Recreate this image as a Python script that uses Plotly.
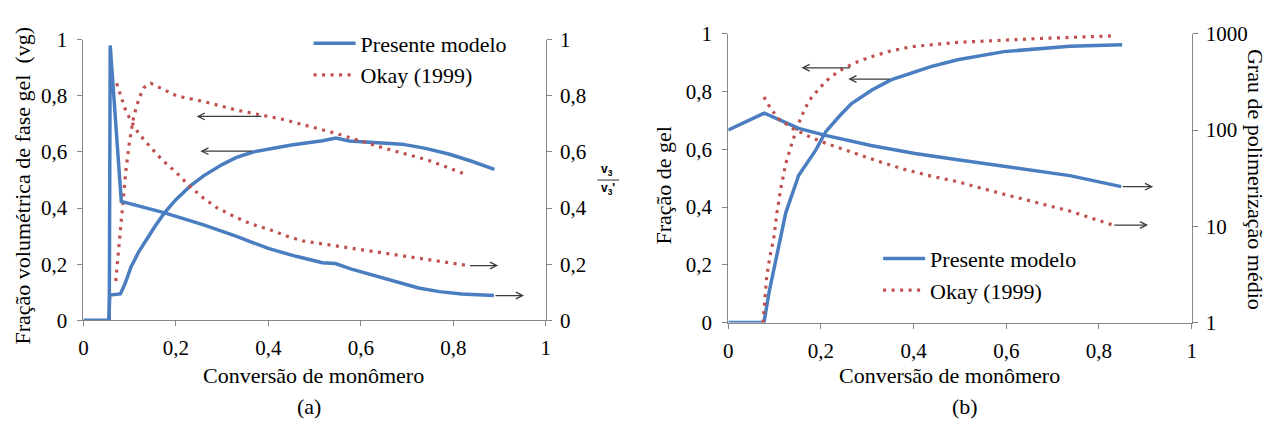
import math
import plotly.graph_objects as go

# ---------------- Panel (a) data ----------------
a_model_vg_x = [0, 0.055, 0.057, 0.080, 0.090, 0.103, 0.120, 0.137, 0.155, 0.174, 0.20, 0.232, 0.26, 0.30, 0.33, 0.367, 0.41, 0.45, 0.517, 0.546, 0.575, 0.63, 0.689, 0.74, 0.79, 0.84, 0.889]
a_model_vg_y = [0, 0, 0.09, 0.094, 0.13, 0.19, 0.245, 0.29, 0.335, 0.38, 0.43, 0.48, 0.515, 0.555, 0.58, 0.60, 0.614, 0.625, 0.64, 0.65, 0.639, 0.635, 0.628, 0.613, 0.593, 0.567, 0.538]

a_model_v3_x = [0.056, 0.058, 0.082, 0.174, 0.26, 0.33, 0.40, 0.46, 0.517, 0.545, 0.58, 0.617, 0.67, 0.725, 0.77, 0.818, 0.888]
a_model_v3_y = [0, 0.98, 0.424, 0.384, 0.34, 0.30, 0.256, 0.228, 0.205, 0.202, 0.182, 0.165, 0.138, 0.115, 0.102, 0.094, 0.088]

a_okay_vg_x = [0.070, 0.077, 0.084, 0.092, 0.100, 0.109, 0.120, 0.131, 0.146, 0.170, 0.202, 0.26, 0.33, 0.43, 0.545, 0.646, 0.747, 0.832]
a_okay_vg_y = [0.14, 0.27, 0.40, 0.535, 0.64, 0.727, 0.79, 0.83, 0.845, 0.825, 0.80, 0.78, 0.75, 0.717, 0.667, 0.616, 0.57, 0.517]

a_okay_v3_x = [0.072, 0.081, 0.090, 0.103, 0.120, 0.146, 0.170, 0.202, 0.23, 0.26, 0.29, 0.33, 0.365, 0.403, 0.44, 0.474, 0.545, 0.652, 0.76, 0.832]
a_okay_v3_y = [0.845, 0.795, 0.755, 0.71, 0.665, 0.616, 0.572, 0.525, 0.478, 0.435, 0.40, 0.367, 0.342, 0.323, 0.30, 0.283, 0.266, 0.239, 0.212, 0.195]

# ---------------- Panel (b) data ----------------
b_model_gel_x = [0, 0.077, 0.088, 0.103, 0.124, 0.152, 0.188, 0.21, 0.24, 0.266, 0.31, 0.351, 0.40, 0.437, 0.495, 0.595, 0.737, 0.85]
b_model_gel_y = [0, 0, 0.105, 0.216, 0.38, 0.51, 0.595, 0.66, 0.715, 0.758, 0.805, 0.84, 0.868, 0.886, 0.91, 0.938, 0.957, 0.962]

b_okay_gel_x = [0.075, 0.083, 0.090, 0.098, 0.105, 0.114, 0.124, 0.138, 0.152, 0.165, 0.18, 0.21, 0.238, 0.27, 0.308, 0.35, 0.394, 0.495, 0.666, 0.837]
b_okay_gel_y = [0, 0.16, 0.23, 0.29, 0.38, 0.47, 0.55, 0.625, 0.69, 0.74, 0.78, 0.835, 0.87, 0.897, 0.92, 0.94, 0.955, 0.97, 0.983, 0.993]

b_model_dp_x = [0, 0.04, 0.078, 0.152, 0.21, 0.308, 0.403, 0.495, 0.595, 0.737, 0.848]
b_model_dp_y = [100, 122, 150, 104, 88, 69, 57, 49, 42, 33.6, 25.8]

b_okay_dp_x = [0.077, 0.092, 0.109, 0.14, 0.18, 0.22, 0.266, 0.32, 0.38, 0.44, 0.495, 0.595, 0.737, 0.83]
b_okay_dp_y = [220, 165, 130, 103, 83, 70, 59, 48, 39, 33, 29, 21.5, 14.4, 10.3]

# tick labels
lin_ticks = [0, 0.2, 0.4, 0.6, 0.8, 1]
lin_ticktext = ["0", "0,2", "0,4", "0,6", "0,8", "1"]
log_ticks = [1, 10, 100, 1000]
log_ticktext = ["1", "10", "100", "1000"]

# arrows: (head_x, tail_x, y, axis)
arrows_a = [
    (0.245, 0.388, 0.727, "y"),
    (0.253, 0.367, 0.603, "y"),
    (0.897, 0.833, 0.195, "y2"),
    (0.953, 0.888, 0.088, "y2"),
]
arrows_b = [
    (0.158, 0.266, 0.882, "y3"),
    (0.259, 0.351, 0.843, "y3"),
    (0.917, 0.848, 25.8, "y4"),
    (0.906, 0.830, 10.3, "y4"),
]

BLUE = "#4A7EC0"
RED = "#C0504D"
FONT = "Liberation Serif"
AX = "#868686"

fig = go.Figure()

def blue(x, y, xa, ya, name, show, leg):
    return go.Scatter(x=x, y=y, xaxis=xa, yaxis=ya, mode="lines", name=name,
                      line=dict(color=BLUE, width=3.5), showlegend=show,
                      legendgroup=name + leg, legend=leg)

def red(x, y, xa, ya, name, show, leg):
    return go.Scatter(x=x, y=y, xaxis=xa, yaxis=ya, mode="lines", name=name,
                      line=dict(color=RED, width=3.2, dash="3px,5.5px"), showlegend=show,
                      legendgroup=name + leg, legend=leg)

fig.add_trace(blue(a_model_vg_x, a_model_vg_y, "x", "y", "Presente modelo", True, "legend"))
fig.add_trace(blue(a_model_v3_x, a_model_v3_y, "x", "y2", "Presente modelo", False, "legend"))
fig.add_trace(red(a_okay_vg_x, a_okay_vg_y, "x", "y", "Okay (1999)", True, "legend"))
fig.add_trace(red(a_okay_v3_x, a_okay_v3_y, "x", "y2", "Okay (1999)", False, "legend"))

fig.add_trace(blue(b_model_gel_x, b_model_gel_y, "x2", "y3", "Presente modelo", True, "legend2"))
fig.add_trace(blue(b_model_dp_x, b_model_dp_y, "x2", "y4", "Presente modelo", False, "legend2"))
fig.add_trace(red(b_okay_gel_x, b_okay_gel_y, "x2", "y3", "Okay (1999)", True, "legend2"))
fig.add_trace(red(b_okay_dp_x, b_okay_dp_y, "x2", "y4", "Okay (1999)", False, "legend2"))

def tf(size=21):
    return dict(family=FONT, size=size, color="black")

common = dict(showgrid=False, zeroline=False, showline=True, linecolor=AX, linewidth=1,
              ticks="outside", ticklen=5, tickcolor=AX)

dom_a_x = [79 / 1277, 545 / 1277]
dom_a_y = [1 - 326.5 / 429, 1 - 29.5 / 429]
dom_b_x = [729 / 1277, 1196 / 1277]
dom_b_y = [1 - 329 / 429, 1 - 23 / 429]

fig.update_layout(
    width=1277, height=429, margin=dict(l=0, r=0, t=0, b=0),
    paper_bgcolor="white", plot_bgcolor="white",
    xaxis=dict(domain=dom_a_x, range=[0, 1], tickvals=lin_ticks, ticktext=lin_ticktext,
               anchor="y", ticklabelstandoff=4, tickfont=tf(), **common),
    yaxis=dict(domain=dom_a_y, range=[0, 1], tickvals=lin_ticks, ticktext=lin_ticktext,
               anchor="x", ticklabelstandoff=6, tickfont=tf(), **common),
    yaxis2=dict(range=[0, 1], tickvals=lin_ticks, ticktext=lin_ticktext, overlaying="y",
                side="right", anchor="x", ticklabelstandoff=4, tickfont=tf(), **common),
    xaxis2=dict(domain=dom_b_x, range=[0, 1], tickvals=lin_ticks, ticktext=lin_ticktext,
                anchor="y3", ticklabelstandoff=4, tickfont=tf(), **common),
    yaxis3=dict(domain=dom_b_y, range=[0, 1], tickvals=lin_ticks, ticktext=lin_ticktext,
                anchor="x2", ticklabelstandoff=6, tickfont=tf(), **common),
    yaxis4=dict(type="log", range=[0, 3], tickvals=log_ticks, ticktext=log_ticktext,
                overlaying="y3", side="right", anchor="x2", ticklabelstandoff=4, tickfont=tf(), **common),
    legend=dict(x=306 / 1277, y=1 - 11 / 429, xanchor="left", yanchor="top",
                bgcolor="rgba(0,0,0,0)", font=tf(22), tracegroupgap=0, itemwidth=42),
    legend2=dict(x=880 / 1277, y=1 - 239 / 429, xanchor="left", yanchor="top",
                 bgcolor="rgba(0,0,0,0)", font=tf(22), tracegroupgap=0, itemwidth=42),
)

ann = []
for hx, tx, y, ya in arrows_a:
    ann.append(dict(x=hx, y=y, ax=tx, ay=y, xref="x", yref=ya, axref="x", ayref=ya,
                    text="", showarrow=True, arrowhead=5, arrowsize=1.1, arrowwidth=1.2,
                    arrowcolor="#3a3a3a", standoff=0, startstandoff=0))
for hx, tx, y, ya in arrows_b:
    yy = math.log10(y) if ya == "y4" else y
    ann.append(dict(x=hx, y=yy, ax=tx, ay=yy, xref="x2", yref=ya, axref="x2", ayref=ya,
                    text="", showarrow=True, arrowhead=5, arrowsize=1.1, arrowwidth=1.2,
                    arrowcolor="#3a3a3a", standoff=0, startstandoff=0))

def txt(t, x, y, angle=0, size=22, fam=FONT):
    return dict(text=t, x=x / 1277, y=1 - y / 429, xref="paper", yref="paper",
                showarrow=False, textangle=angle, xanchor="center", yanchor="middle",
                font=dict(family=fam, size=size, color="black"))

ann += [
    txt("Conversão de monômero", 311, 385),
    txt("(a)", 306, 418),
    txt("Conversão de monômero", 952, 385),
    txt("(b)", 968, 418),
    txt("Fração volumétrica de fase gel  (vg)", 18, 184, angle=-90),
    txt("Fração de gel", 664, 183, angle=-90),
    txt("Grau de polimerização médio", 1261, 177, angle=90),
    txt("<b>v<sub>3</sub></b>", 607, 167, size=12, fam="Liberation Sans"),
    txt("<b>v<sub>3</sub>'</b>", 608, 188, size=12, fam="Liberation Sans"),
]
fig.update_layout(annotations=ann)
fig.add_shape(type="line", xref="paper", yref="paper", x0=597 / 1277, x1=619 / 1277,
              y0=1 - 178 / 429, y1=1 - 178 / 429, line=dict(color="#333333", width=1))

fig.write_html("out.html")
